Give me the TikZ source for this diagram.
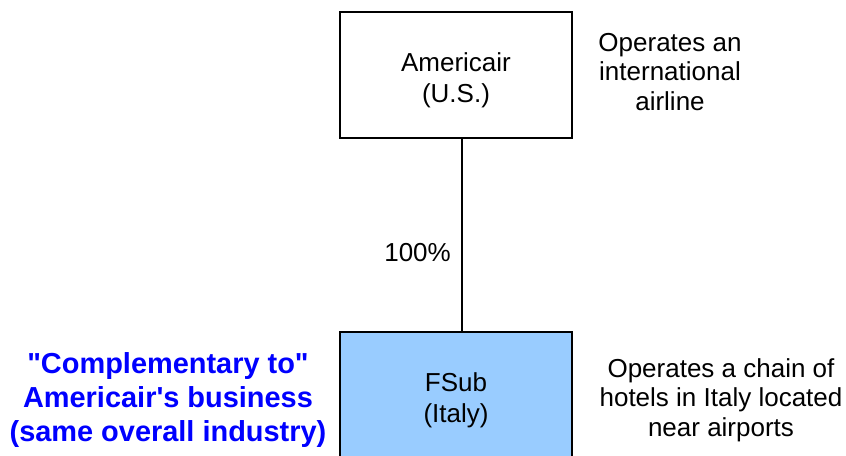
\documentclass[tikz,border=0pt]{standalone}
\usepackage{fontspec}
\setmainfont{Liberation Sans}
\definecolor{fsubfill}{RGB}{153,204,255}
\definecolor{remarkblue}{RGB}{0,0,255}

\tikzset{every picture/.style={line width=0.75pt}}
\tikzset{
  entity/.style={draw, line width=1.4pt, minimum width=174pt, minimum height=94.5pt, inner sep=0pt},
  entitytext/.style={align=center, inner sep=0pt, font=\fontsize{19.5}{23}\selectfont},
  note/.style={align=center, inner sep=0.75pt, font=\fontsize{19.5}{22}\selectfont},
  remark/.style={align=center, inner sep=0.75pt, text=remarkblue, font=\bfseries\fontsize{21.7}{25.5}\selectfont},
}

\begin{document}
\begin{tikzpicture}[x=0.75pt,y=0.75pt,yscale=-1,xscale=1]
\useasboundingbox (0,0) rectangle (846,456);
\clip (0,0) rectangle (846,456);

%Shape: Rectangle [parent]
\node [entity] (americair) at (456,75) {};
\node [entitytext] (americairname) at ([yshift=3.75pt]americair.center) {Americair\\(U.S.)};
%Shape: Rectangle [subsidiary]
\node [entity, fill=fsubfill] (fsub) at (456,395) {};
\node [entitytext] (fsubname) at ([yshift=3.75pt]fsub.center) {FSub\\(Italy)};

%Straight Lines [ownership]
\draw [line width=1.4pt] ([xshift=4.3pt]americair.south) -- ([xshift=4.3pt]fsub.north)
  node [pos=0.59, anchor=east, inner sep=7.5pt, font=\fontsize{19.5}{22}\selectfont] (share) {100\%};

% Text Node
\node [note] (airline) at (670,72) {Operates an\\international\\airline};
% Text Node
\node [note] (hotels) at (721,400) {Operates a chain of\\hotels in Italy located\\near airports};
% Text Node
\node [remark] (complement) at (168,400) {\textquotedbl Complementary to\textquotedbl\\Americair\textquotesingle s business\\(same overall industry)};

\end{tikzpicture}
\end{document}
